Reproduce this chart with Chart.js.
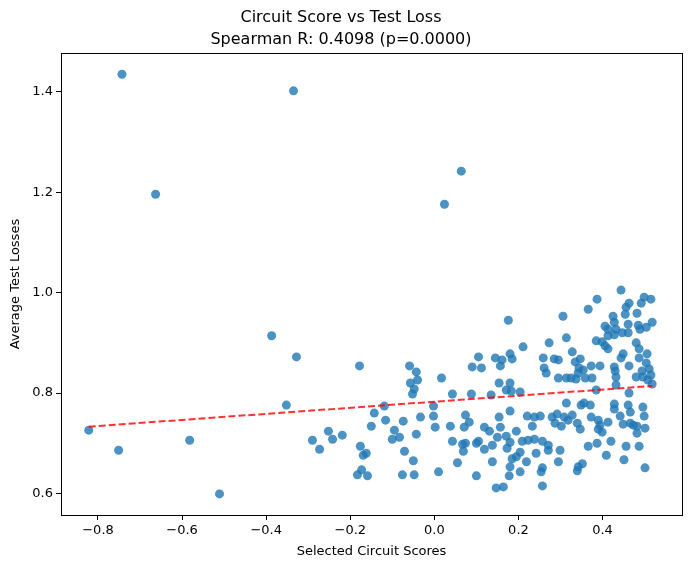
<!DOCTYPE html>
<html>
<head>
<meta http-equiv="Content-Type" content="text/html;charset=utf-8" />
<script src="https://cdn.jsdelivr.net/npm/chart.js@4.4.0/dist/chart.umd.min.js"></script>
<style>
  html, body { margin: 0; padding: 0; background: #fff; overflow: hidden; }
  canvas { display: block; }
</style>
</head>
<body>
<canvas id="scatter" width="691" height="568"></canvas>
<script type="text/javascript">
// circuit scores (x) and average test losses (y)
var scores = [
  -0.743, -0.335, -0.663, 0.064, 0.024, -0.387, -0.328, -0.352, -0.178, -0.822,
  -0.751, -0.582, -0.511, -0.119, -0.143, -0.116, -0.074, -0.150, -0.252, -0.095,
  -0.290, -0.242, -0.219, -0.100, -0.083, -0.273, -0.176, -0.162, -0.169, -0.071,
  -0.173, -0.183, -0.159, -0.076, -0.057, -0.059,
  0.176, 0.211, 0.105, 0.145, 0.180, 0.161, 0.185, -0.043, 0.090, 0.112,
  0.157, 0.017, -0.040, -0.048, -0.052, 0.154, 0.180, 0.171, 0.183, 0.204,
  0.043, 0.088, 0.135,
  -0.002, -0.002, -0.033, 0.002, 0.038, 0.074, 0.083, 0.071, 0.154, 0.180,
  0.221, 0.238, 0.233, 0.119, 0.131, 0.157, -0.043, 0.150, 0.171, 0.195,
  0.043, 0.067, 0.074, 0.105, 0.100, 0.138, 0.180, 0.209, 0.223, 0.238,
  0.069, 0.119, 0.173, 0.204, 0.242, 0.195, 0.185, -0.050, 0.055, 0.138,
  0.219, 0.180, -0.048, 0.010, 0.100, 0.204, 0.178, 0.147, 0.164,
  0.444, 0.387, 0.499, 0.515, 0.492, 0.463, 0.456, 0.366, 0.306, 0.454,
  0.482, 0.425, 0.428, 0.406, 0.461, 0.485, 0.518, 0.504, 0.489, 0.413,
  0.432, 0.447, 0.461, 0.413, 0.428, 0.273, 0.314, 0.385, 0.399, 0.406,
  0.413, 0.480, 0.487, 0.506, 0.449, 0.444, 0.328, 0.259, 0.285, 0.295,
  0.347, 0.335, 0.487, 0.504, 0.463, 0.373, 0.394, 0.428, 0.344, 0.354,
  0.261, 0.266, 0.342, 0.430, 0.511, 0.494, 0.432, 0.515, 0.295, 0.314,
  0.325, 0.337, 0.359, 0.375, 0.480, 0.496, 0.508, 0.432, 0.518, 0.385,
  0.463,
  0.314, 0.349, 0.356, 0.371, 0.428, 0.461, 0.496, 0.428, 0.466, 0.442,
  0.499, 0.252, 0.280, 0.292, 0.309, 0.328, 0.318, 0.287, 0.302, 0.340,
  0.373, 0.390, 0.394, 0.413, 0.449, 0.466, 0.473, 0.482, 0.501, 0.347,
  0.390, 0.399, 0.482, 0.257, 0.271, 0.271, 0.299, 0.366, 0.387, 0.420,
  0.456, 0.487, 0.295, 0.409, 0.451, 0.257, 0.254, 0.352, 0.342, 0.340,
  0.501, 0.257
];
var losses = [
  1.435, 1.402, 1.196, 1.242, 1.176, 0.914, 0.872, 0.776, 0.854, 0.726,
  0.686, 0.706, 0.599, 0.774, 0.760, 0.746, 0.744, 0.734, 0.724, 0.726,
  0.706, 0.708, 0.716, 0.708, 0.712, 0.688, 0.694, 0.680, 0.676, 0.684,
  0.647, 0.637, 0.635, 0.637, 0.820, 0.854,
  0.945, 0.892, 0.872, 0.870, 0.878, 0.866, 0.868, 0.842, 0.852, 0.850,
  0.854, 0.830, 0.826, 0.808, 0.798, 0.820, 0.820, 0.806, 0.804, 0.802,
  0.798, 0.798, 0.796,
  0.774, 0.754, 0.752, 0.732, 0.734, 0.756, 0.742, 0.732, 0.752, 0.764,
  0.754, 0.752, 0.734, 0.732, 0.724, 0.732, 0.718, 0.712, 0.714, 0.724,
  0.704, 0.698, 0.700, 0.704, 0.700, 0.696, 0.702, 0.704, 0.706, 0.708,
  0.684, 0.688, 0.690, 0.682, 0.680, 0.673, 0.669, 0.665, 0.661, 0.663,
  0.663, 0.653, 0.637, 0.643, 0.635, 0.643, 0.635, 0.611, 0.613,
  1.005, 0.987, 0.991, 0.987, 0.979, 0.979, 0.971, 0.967, 0.953, 0.957,
  0.959, 0.953, 0.941, 0.933, 0.937, 0.935, 0.941, 0.931, 0.927, 0.927,
  0.927, 0.920, 0.920, 0.914, 0.916, 0.900, 0.910, 0.904, 0.902, 0.894,
  0.888, 0.900, 0.888, 0.878, 0.878, 0.870, 0.882, 0.870, 0.868, 0.866,
  0.868, 0.862, 0.870, 0.860, 0.854, 0.854, 0.854, 0.852, 0.850, 0.846,
  0.850, 0.840, 0.840, 0.844, 0.848, 0.844, 0.832, 0.836, 0.830, 0.830,
  0.830, 0.828, 0.830, 0.830, 0.832, 0.832, 0.826, 0.816, 0.818, 0.806,
  0.800,
  0.780, 0.776, 0.780, 0.776, 0.778, 0.776, 0.772, 0.768, 0.762, 0.754,
  0.754, 0.754, 0.752, 0.758, 0.752, 0.756, 0.746, 0.740, 0.734, 0.740,
  0.752, 0.746, 0.736, 0.742, 0.738, 0.740, 0.736, 0.734, 0.730, 0.728,
  0.728, 0.722, 0.720, 0.704, 0.696, 0.686, 0.686, 0.694, 0.700, 0.704,
  0.694, 0.694, 0.663, 0.676, 0.667, 0.651, 0.643, 0.659, 0.653, 0.645,
  0.651, 0.615
];

// fitted trend line ends (red dashed)
var trendX = [-0.822, 0.518];
var trendY = [0.733, 0.814];

var xTicks = [-0.8, -0.6, -0.4, -0.2, 0.0, 0.2, 0.4];
var xTickLabels = ['\u22120.8', '\u22120.6', '\u22120.4', '\u22120.2', '0.0', '0.2', '0.4'];
var yTicks = [0.6, 0.8, 1.0, 1.2, 1.4];
var yTickLabels = ['0.6', '0.8', '1.0', '1.2', '1.4'];

var points = [];
for (var i = 0; i < scores.length; i++) {
    points.push({x: scores[i], y: losses[i]});
}
var trend = [];
for (var j = 0; j < trendX.length; j++) {
    trend.push({x: trendX[j], y: trendY[j]});
}

var FONT = "'DejaVu Sans', sans-serif";

// bare axes on top and right just to close the box
var spine = function(pos, axis) {
    return {
        type: 'linear',
        position: pos,
        axis: axis,
        ticks: { display: false },
        grid: { drawOnChartArea: false, drawTicks: false },
        border: { display: true, color: '#000', width: 1 },
        afterFit: function(s) { if (axis === 'x') { s.height = 0; } else { s.width = 0; } }
    };
};

var ctx = document.getElementById('scatter').getContext('2d');
var chart = new Chart(ctx, {
    type: 'scatter',
    data: {
        datasets: [{
            label: 'trend',
            type: 'line',
            data: trend,
            order: 0,
            borderColor: 'rgba(255,0,0,0.8)',
            borderWidth: 2,
            borderDash: [7, 3],
            pointRadius: 0,
            fill: false
        }, {
            label: 'scores',
            data: points,
            order: 1,
            backgroundColor: 'rgba(31,119,180,0.8)',
            borderWidth: 0,
            pointRadius: 4.5
        }]
    },
    options: {
        responsive: false,
        animation: false,
        devicePixelRatio: 1,
        layout: { padding: { left: 0, right: 9, top: 0, bottom: 0 } },
        plugins: {
            legend: { display: false },
            tooltip: { enabled: false },
            title: {
                display: true,
                text: ['Circuit Score vs Test Loss', 'Spearman R: 0.4098 (p=0.0000)'],
                color: '#000',
                font: { family: FONT, size: 16, weight: 'normal', lineHeight: 1.35 },
                padding: { top: 7, bottom: 3 }
            }
        },
        scales: {
            x: {
                type: 'linear',
                min: -0.888,
                max: 0.589,
                afterBuildTicks: function(s) { s.ticks = xTicks.map(function(v) { return {value: v}; }); },
                afterFit: function(s) { s.height = 53; },
                ticks: {
                    autoSkip: false,
                    maxRotation: 0,
                    color: '#000',
                    padding: 3,
                    font: { family: FONT, size: 13 },
                    callback: function(v, i) { return xTickLabels[i]; }
                },
                grid: { drawOnChartArea: false, drawTicks: true, tickLength: 5, color: '#000' },
                border: { color: '#000' },
                title: {
                    display: true,
                    text: 'Selected Circuit Scores',
                    color: '#000',
                    font: { family: FONT, size: 13 },
                    padding: { top: 4, bottom: 9 }
                }
            },
            y: {
                type: 'linear',
                min: 0.557,
                max: 1.477,
                afterBuildTicks: function(s) { s.ticks = yTicks.map(function(v) { return {value: v}; }); },
                afterFit: function(s) { s.width = 61; },
                ticks: {
                    autoSkip: false,
                    color: '#000',
                    padding: 3,
                    font: { family: FONT, size: 13 },
                    callback: function(v, i) { return yTickLabels[i]; }
                },
                grid: { drawOnChartArea: false, drawTicks: true, tickLength: 5, color: '#000' },
                border: { color: '#000' },
                title: {
                    display: true,
                    text: 'Average Test Losses',
                    color: '#000',
                    font: { family: FONT, size: 13 },
                    padding: { top: 8, bottom: 4 }
                }
            },
            xTop: spine('top', 'x'),
            yRight: spine('right', 'y')
        }
    }
});
</script>
</body>
</html>
